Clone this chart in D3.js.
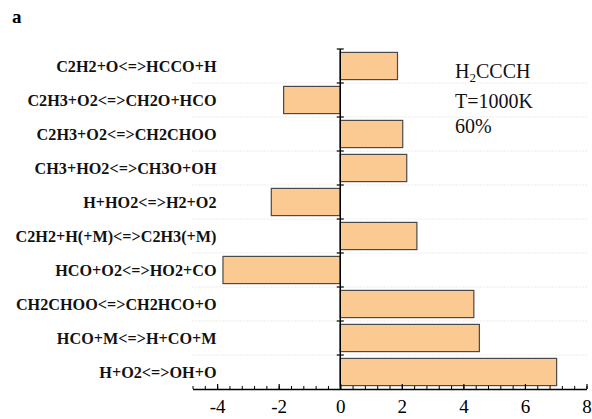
<!DOCTYPE html>
<html><head><meta charset="utf-8">
<script src="https://cdn.jsdelivr.net/npm/d3@7"></script>
<style>body{margin:0;background:#fff}</style>
</head><body>
<svg id="c" width="592" height="419"></svg>
<script>
const reactions = ["C2H2+O<=>HCCO+H","C2H3+O2<=>CH2O+HCO","C2H3+O2<=>CH2CHOO","CH3+HO2<=>CH3O+OH","H+HO2<=>H2+O2","C2H2+H(+M)<=>C2H3(+M)","HCO+O2<=>HO2+CO","CH2CHOO<=>CH2HCO+O","HCO+M<=>H+CO+M","H+O2<=>OH+O"];
const sensitivity = [1.86,-1.84,2.03,2.16,-2.24,2.49,-3.81,4.34,4.52,7.03];
const xTicks = [-4,-2,0,2,4,6,8];
const annotation = ["T=1000K","60%"];

const svg = d3.select("#c");
const L = 192.5, R = 586.5, T = 49, B = 389;
const x = d3.scaleLinear().domain([-4.8, 8]).range([L, R]);
const y = d3.scaleBand().domain(reactions).range([T, B]).paddingInner(0.2).paddingOuter(0.1);

const step = y.step();
const bounds = d3.range(1, reactions.length).map(i => T + i*step);
svg.append("g").selectAll("line").data(bounds).join("line")
  .attr("x1", L).attr("x2", R).attr("y1", d=>d).attr("y2", d=>d)
  .attr("stroke", "#d8d8d8").attr("stroke-dasharray", "1,2");

svg.append("g").selectAll("rect").data(sensitivity).join("rect")
  .attr("x", d => x(Math.min(0,d)))
  .attr("width", d => Math.abs(x(d)-x(0)))
  .attr("y", (d,i) => y(reactions[i]))
  .attr("height", y.bandwidth())
  .attr("fill", "#fbc992").attr("stroke", "#4a4a4a").attr("stroke-width", 1.2);

const minor = d3.range(-4.8, 8.001, 0.4).map(v => +v.toFixed(2));
svg.append("g").attr("transform", `translate(0,${B})`)
  .call(d3.axisBottom(x).tickValues(minor).tickSize(-3).tickFormat(""))
  .call(g => g.select(".domain").remove())
  .selectAll("line").attr("stroke", "#000").attr("stroke-width", 1);
const xg = svg.append("g").attr("transform", `translate(0,${B})`)
  .call(d3.axisBottom(x).tickValues(xTicks).tickSizeInner(-5).tickSizeOuter(0).tickPadding(11).tickFormat(d3.format("d")));
xg.select(".domain").attr("stroke", "#000").attr("stroke-width", 1.5);
xg.selectAll(".tick line").attr("stroke", "#000").attr("stroke-width", 1.2);
xg.selectAll("text").attr("font-family", "Liberation Serif").attr("font-size", 19).attr("fill", "#000")
  .text(d => d < 0 ? "-" + Math.abs(d) : d);

const yb = [T].concat(bounds);
svg.append("line").attr("x1", x(0)).attr("x2", x(0)).attr("y1", T).attr("y2", B)
  .attr("stroke", "#000").attr("stroke-width", 1.5);
svg.append("g").selectAll("line").data(yb).join("line")
  .attr("x1", x(0)-3.5).attr("x2", x(0)+3.5).attr("y1", d=>d).attr("y2", d=>d)
  .attr("stroke", "#000").attr("stroke-width", 1.2);

svg.append("g").selectAll("text").data(reactions).join("text")
  .attr("x", 216.5).attr("y", d => y(d) + y.bandwidth()/2)
  .attr("dy", "0.35em").attr("text-anchor", "end")
  .attr("font-family", "Liberation Serif").attr("font-weight", "bold").attr("font-size", 16.2)
  .attr("fill", "#111").text(d => d);

const ann = svg.append("g").attr("font-family", "Liberation Serif").attr("font-size", 20).attr("fill", "#111");
const t0 = ann.append("text").attr("x", 455).attr("y", 78);
t0.append("tspan").text("H");
t0.append("tspan").attr("font-size", 13).attr("dy", 4).text("2");
t0.append("tspan").attr("dy", -4).text("CCCH");
ann.selectAll(".a").data(annotation).join("text").attr("class","a")
  .attr("x", 455).attr("y", (d,i) => 108 + i*25).text(d => d);

svg.append("text").attr("x", 12).attr("y", 23).attr("font-family", "Liberation Serif")
  .attr("font-weight", "bold").attr("font-size", 19).text("a");
</script>
</body></html>
